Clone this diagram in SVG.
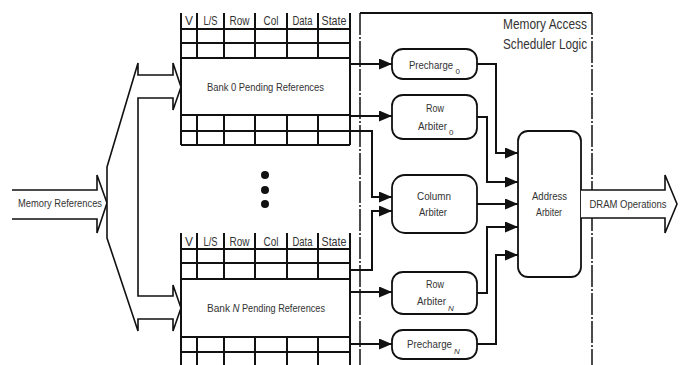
<svg xmlns="http://www.w3.org/2000/svg" width="685" height="365" viewBox="0 0 685 365">
<style>
text{font-family:"Liberation Sans",Arial,sans-serif;fill:#333;}
.tbl{stroke:#111;stroke-width:2;fill:none;}
.box{fill:#fff;stroke:#111;stroke-width:1.8;}
.con{fill:none;stroke:#111;stroke-width:2;}
.fat{fill:#fff;stroke:#111;stroke-width:1.6;stroke-linejoin:miter;}
.hdr{font-size:13px;text-anchor:middle;}
.lbl{font-size:11px;text-anchor:middle;}
.sub{font-size:8px;}
</style>
<defs>
<marker id="ah" markerUnits="userSpaceOnUse" markerWidth="13" markerHeight="11" refX="13" refY="5.5" orient="auto">
<path d="M0,0 L13,5.5 L0,11 z" fill="#111"/>
</marker>
</defs>
<rect width="685" height="365" fill="#fff"/>

<!-- scheduler border -->
<g id="scheduler">
<path d="M360,13 H592" stroke="#111" stroke-width="2" fill="none"/>
<path d="M360,13 V365 M592,13 V365" stroke="#111" stroke-width="1.5" fill="none" stroke-dasharray="22,2,2,2"/>
<text x="587" y="29" font-size="14" text-anchor="end" textLength="84" lengthAdjust="spacingAndGlyphs">Memory Access</text>
<text x="587" y="49" font-size="14" text-anchor="end" textLength="84" lengthAdjust="spacingAndGlyphs">Scheduler Logic</text>
</g>

<!-- bank 0 table -->
<g id="bank0">
<path class="tbl" d="M181,13 V145 M197,13 V58 M224,13 V58 M255,13 V58 M287,13 V58 M318,13 V58 M350,13 V145 M197,115 V145 M224,115 V145 M255,115 V145 M287,115 V145 M318,115 V145 M181,29 H350 M181,43 H350 M181,58 H350 M181,115 H350 M181,131 H350 M181,145 H350"/>
<text class="hdr" x="189" y="25" textLength="8" lengthAdjust="spacingAndGlyphs">V</text>
<text class="hdr" x="210.5" y="25" textLength="14" lengthAdjust="spacingAndGlyphs">L/S</text>
<text class="hdr" x="239.5" y="25" textLength="20" lengthAdjust="spacingAndGlyphs">Row</text>
<text class="hdr" x="271" y="25" textLength="15" lengthAdjust="spacingAndGlyphs">Col</text>
<text class="hdr" x="302.5" y="25" textLength="20" lengthAdjust="spacingAndGlyphs">Data</text>
<text class="hdr" x="334" y="25" textLength="25" lengthAdjust="spacingAndGlyphs">State</text>
<text x="265.5" y="91" font-size="11.5" text-anchor="middle" textLength="117" lengthAdjust="spacingAndGlyphs">Bank 0 Pending References</text>
</g>

<!-- dots -->
<g id="ellipsis" fill="#111">
<circle cx="265" cy="175" r="4"/>
<circle cx="265" cy="190" r="4"/>
<circle cx="265" cy="204" r="4"/>
</g>

<!-- bank N table -->
<g id="bankN">
<path class="tbl" d="M181,233 V365 M197,233 V279 M224,233 V279 M255,233 V279 M287,233 V279 M318,233 V279 M350,233 V365 M197,337 V365 M224,337 V365 M255,337 V365 M287,337 V365 M318,337 V365 M181,249 H350 M181,263 H350 M181,279 H350 M181,337 H350 M181,352 H350"/>
<text class="hdr" x="189" y="246" textLength="8" lengthAdjust="spacingAndGlyphs">V</text>
<text class="hdr" x="210.5" y="246" textLength="14" lengthAdjust="spacingAndGlyphs">L/S</text>
<text class="hdr" x="239.5" y="246" textLength="20" lengthAdjust="spacingAndGlyphs">Row</text>
<text class="hdr" x="271" y="246" textLength="15" lengthAdjust="spacingAndGlyphs">Col</text>
<text class="hdr" x="302.5" y="246" textLength="20" lengthAdjust="spacingAndGlyphs">Data</text>
<text class="hdr" x="334" y="246" textLength="25" lengthAdjust="spacingAndGlyphs">State</text>
<text x="207" y="312" font-size="11.5" textLength="23" lengthAdjust="spacingAndGlyphs">Bank</text>
<text x="232.5" y="312" font-size="11.5" font-style="italic" textLength="7" lengthAdjust="spacingAndGlyphs">N</text>
<text x="242" y="312" font-size="11.5" textLength="83" lengthAdjust="spacingAndGlyphs">Pending References</text>
</g>

<!-- input fat arrows -->
<g id="memrefs">
<path class="fat" d="M12,190 H97 V175 L107,203 L97,233 V219 H12"/>
<text x="60" y="207" font-size="11" text-anchor="middle" textLength="84" lengthAdjust="spacingAndGlyphs">Memory References</text>
</g>
<g id="fork">
<path class="fat" d="M107,167 L138,63 V75 H173 V63 L181,87 L173,110 V98 H138 V296 H173 V285 L181,308 L173,331 V319 H138 V331 L107,238 Z"/>
</g>

<!-- connectors -->
<g id="connectors" class="con">
<path d="M350,64 H392" marker-end="url(#ah)"/>
<path d="M350,116 H392" marker-end="url(#ah)"/>
<path d="M350,131 H372 V197 H392" marker-end="url(#ah)"/>
<path d="M350,270 H372 V211 H392" marker-end="url(#ah)"/>
<path d="M350,292 H392" marker-end="url(#ah)"/>
<path d="M350,344 H392" marker-end="url(#ah)"/>
<path d="M477,64 H496 V153 H518" marker-end="url(#ah)"/>
<path d="M477,117 H487 V182 H518" marker-end="url(#ah)"/>
<path d="M477,204 H518" marker-end="url(#ah)"/>
<path d="M477,293 H487 V227 H518" marker-end="url(#ah)"/>
<path d="M477,344 H496 V255 H518" marker-end="url(#ah)"/>
</g>

<!-- scheduler nodes -->
<g id="precharge0">
<rect class="box" x="392" y="49" width="85" height="30" rx="11"/>
<text x="409" y="69" font-size="10" textLength="44" lengthAdjust="spacingAndGlyphs">Precharge</text>
<text class="sub" x="455.5" y="74">0</text>
</g>
<g id="rowarb0">
<rect class="box" x="392" y="95" width="85" height="44" rx="11"/>
<text class="lbl" x="435" y="112" textLength="18" lengthAdjust="spacingAndGlyphs">Row</text>
<text x="418" y="130" font-size="11" textLength="29" lengthAdjust="spacingAndGlyphs">Arbiter</text>
<text class="sub" x="449" y="135">0</text>
</g>
<g id="colarb">
<rect class="box" x="392" y="175" width="85" height="58" rx="13"/>
<text class="lbl" x="434" y="200" textLength="34" lengthAdjust="spacingAndGlyphs">Column</text>
<text class="lbl" x="433" y="216" textLength="28" lengthAdjust="spacingAndGlyphs">Arbiter</text>
</g>
<g id="rowarbN">
<rect class="box" x="392" y="272" width="85" height="42" rx="11"/>
<text class="lbl" x="435" y="288" textLength="18" lengthAdjust="spacingAndGlyphs">Row</text>
<text x="417" y="305" font-size="11" textLength="29" lengthAdjust="spacingAndGlyphs">Arbiter</text>
<text class="sub" x="448" y="311" font-style="italic">N</text>
</g>
<g id="prechargeN">
<rect class="box" x="392" y="330" width="85" height="29" rx="11"/>
<text x="407" y="348" font-size="10" textLength="45" lengthAdjust="spacingAndGlyphs">Precharge</text>
<text class="sub" x="454" y="354" font-style="italic">N</text>
</g>
<g id="addrarb">
<rect class="box" x="518" y="131" width="63" height="146" rx="10"/>
<text class="lbl" x="549.5" y="200" textLength="35" lengthAdjust="spacingAndGlyphs">Address</text>
<text class="lbl" x="549" y="216" textLength="26" lengthAdjust="spacingAndGlyphs">Arbiter</text>
</g>

<!-- output fat arrow -->
<g id="dramops">
<path d="M581,190 H665 V175 L677,204 L665,233 V218 H581 Z" fill="#fff" stroke="none"/>
<path class="fat" d="M581,190 H665 V175 L677,204 L665,233 V218 H581" fill="none"/>
<text x="628" y="208" font-size="11.5" text-anchor="middle" textLength="77" lengthAdjust="spacingAndGlyphs">DRAM Operations</text>
</g>
</svg>
